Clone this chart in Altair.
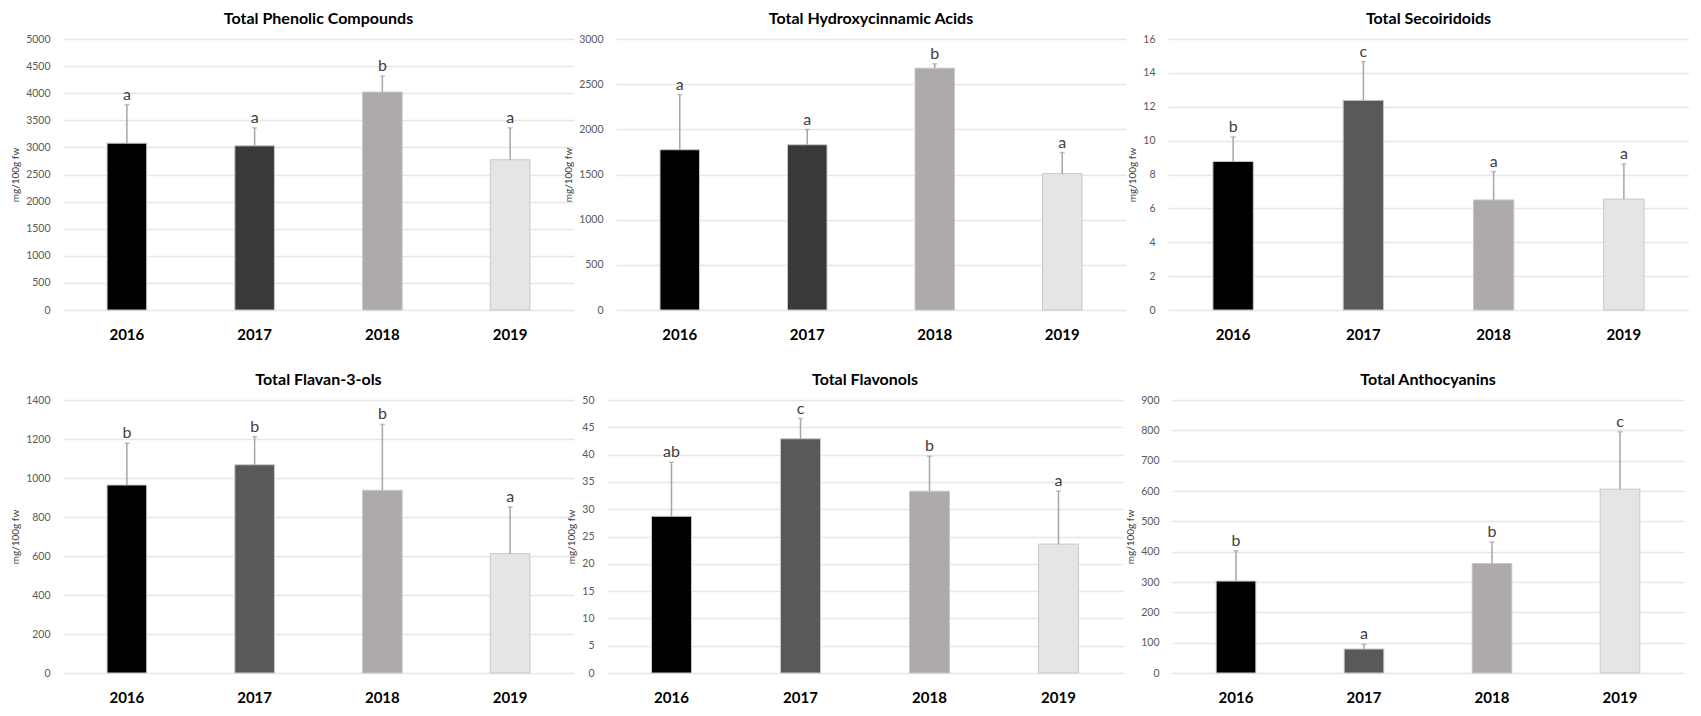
import altair as alt
import pandas as pd

years = ["2016", "2017", "2018", "2019"]

# Panel titles
titles = [
    "Total Phenolic Compounds",
    "Total Hydroxycinnamic Acids",
    "Total Secoiridoids",
    "Total Flavan-3-ols",
    "Total Flavonols",
    "Total Anthocyanins",
]

# Means (bar heights) and upper end of the error bar (mean + SD), mg/100g fw
phenolic_mean = [3078, 3029, 4021, 2772]
phenolic_top = [3788, 3360, 4315, 3360]
phenolic_letters = ["a", "a", "b", "a"]

hydroxy_mean = [1774, 1829, 2677, 1509]
hydroxy_top = [2383, 1998, 2725, 1743]
hydroxy_letters = ["a", "a", "b", "a"]

secoir_mean = [8.77, 12.38, 6.50, 6.55]
secoir_top = [10.22, 14.67, 8.17, 8.62]
secoir_letters = ["b", "c", "a", "a"]

flavan_mean = [964, 1068, 937, 612]
flavan_top = [1178, 1212, 1275, 851]
flavan_letters = ["b", "b", "b", "a"]

flavonol_mean = [28.7, 42.9, 33.3, 23.6]
flavonol_top = [38.6, 46.6, 39.7, 33.3]
flavonol_letters = ["ab", "c", "b", "a"]

antho_mean = [303, 79, 361, 606]
antho_top = [403, 94, 432, 795]
antho_letters = ["b", "a", "b", "c"]

# y-axis maxima and steps
y_max = [5000, 3000, 16, 1400, 50, 900]
y_step = [500, 500, 2, 200, 5, 100]

colors_a = ["#000000", "#3b3937", "#aeaaa9", "#e5e5e5"]
colors_b = ["#000000", "#595959", "#aeaaa9", "#e5e5e5"]

FONT = "Lato"
YTITLE = "mg/100g fw"


def panel(title, means, tops, letters, ymax, ystep, colors, w, h):
    df = pd.DataFrame(
        {"year": years, "mean": means, "top": tops, "letter": letters, "fill": colors}
    )
    ticks = [i * ystep for i in range(int(round(ymax / ystep)) + 1)]
    xenc = alt.X(
        "year:N",
        sort=years,
        title=None,
        scale=alt.Scale(paddingInner=0, paddingOuter=0),
        axis=alt.Axis(
            labelAngle=0,
            labelFont=FONT,
            labelFontWeight="bold",
            labelFontSize=15,
            labelColor="#000000",
            labelPadding=17,
            ticks=False,
            domain=False,
            grid=False,
        ),
    )
    yscale = alt.Scale(domain=[0, ymax], nice=False, zero=True)
    yaxis = alt.Axis(values=ticks, grid=True, format="d")
    base = alt.Chart(df)
    bars = base.mark_bar(width={"band": 0.31}, stroke="#c8c8c8", strokeWidth=1).encode(
        x=xenc,
        y=alt.Y("mean:Q", title=YTITLE, scale=yscale, axis=yaxis),
        color=alt.Color("fill:N", scale=None, legend=None),
    )
    rule = base.mark_rule(color="#a6a6a6", strokeWidth=1.5).encode(
        x=xenc,
        y=alt.Y("mean:Q", title=YTITLE, scale=yscale, axis=yaxis),
        y2="top:Q",
    )
    cap = base.mark_tick(color="#a6a6a6", size=5, thickness=1.5).encode(
        x=xenc,
        y=alt.Y("top:Q", title=YTITLE, scale=yscale, axis=yaxis),
    )
    text = base.mark_text(
        dy=-5, baseline="alphabetic", font=FONT, fontSize=16, color="#404040"
    ).encode(
        x=xenc,
        y=alt.Y("top:Q", title=YTITLE, scale=yscale, axis=yaxis),
        text="letter:N",
    )
    return alt.layer(bars, rule, cap, text).properties(
        width=w,
        height=h,
        title=alt.TitleParams(
            title, font=FONT, fontSize=16, fontWeight="bold", color="#000000", offset=7
        ),
    )


p1 = panel(titles[0], phenolic_mean, phenolic_top, phenolic_letters, y_max[0], y_step[0], colors_a, 511, 271)
p2 = panel(titles[1], hydroxy_mean, hydroxy_top, hydroxy_letters, y_max[1], y_step[1], colors_a, 510, 271)
p3 = panel(titles[2], secoir_mean, secoir_top, secoir_letters, y_max[2], y_step[2], colors_b, 521, 271)
p4 = panel(titles[3], flavan_mean, flavan_top, flavan_letters, y_max[3], y_step[3], colors_b, 511, 273)
p5 = panel(titles[4], flavonol_mean, flavonol_top, flavonol_letters, y_max[4], y_step[4], colors_b, 516, 273)
p6 = panel(titles[5], antho_mean, antho_top, antho_letters, y_max[5], y_step[5], colors_b, 512, 273)

top_row = alt.hconcat(p1, p2, p3, spacing=42, bounds="flush")
bottom_left = alt.hconcat(p4, p5, spacing=33, bounds="flush")
bottom_row = alt.hconcat(bottom_left, p6, spacing=2)

chart = (
    alt.vconcat(top_row, bottom_row, spacing=30)
    .properties(padding={"left": 2, "top": 3, "right": 0, "bottom": 0})
    .configure_view(stroke=None)
    .configure_axisY(
        labelFont=FONT,
        labelFontSize=10.5,
        labelColor="#595959",
        labelPadding=13,
        ticks=False,
        domain=False,
        gridColor="#e6e6e6",
        gridWidth=1.5,
        minExtent=0,
        titleFont=FONT,
        titleFontSize=10,
        titleFontWeight="normal",
        titleColor="#404040",
        titlePadding=5,
    )
)

chart.save("out.html", embed_options={"renderer": "svg", "actions": False})
